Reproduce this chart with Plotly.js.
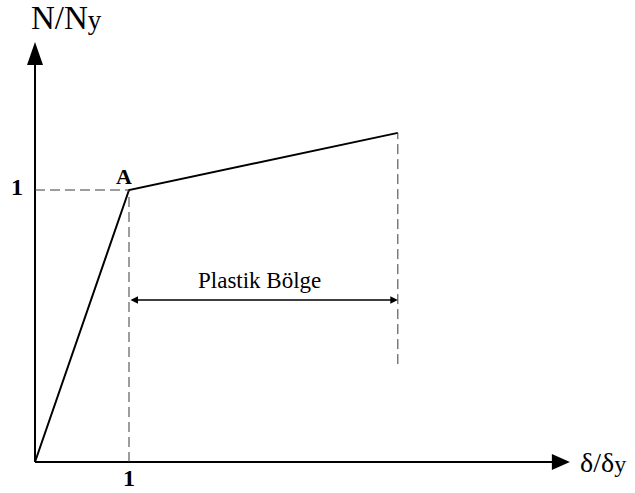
<!DOCTYPE html>
<html>
<head>
<meta charset="utf-8">
<script src="https://cdn.plot.ly/plotly-3.0.1.min.js"></script>
<style>
  body { margin: 0; background: #fff; }
  #chart { width: 635px; height: 493px; }
</style>
</head>
<body>
<div id="chart"></div>
<script>
// Eğri noktaları (δ/δy, N/Ny)
const curveX = [0, 1, 3.86];
const curveY = [0, 1, 1.21];
const yieldPoint = { x: 1, y: 1, label: 'A' };
const plasticEndBottom = 0.36;
const plasticArrowY = 0.596;
const plasticLabel = 'Plastik Bölge';
const tickLabel = '1';

// ölçek: 1 birim = piksel
const pxX = 94;
const pxY = 272;
// eksen okunun uçları
const xTip = 5.69;
const yTip = 1.544;
// tüm sayfa çizim alanı (orijin 35,462 pikselde)
const xRange = [-35 / pxX, 600 / pxX];
const yRange = [-31 / pxY, 462 / pxY];

const serif = 'Liberation Serif, Times New Roman, serif';
const dashStyle = { color: '#3a3a3a', width: 1, dash: '10px,5px' };

const curve = {
    x: curveX,
    y: curveY,
    mode: 'lines',
    line: { color: '#000', width: 2 },
    hoverinfo: 'skip',
    showlegend: false
};

// ok uçları (üçgen)
function tri(tipX, tipY, dir, len, half) {
    if (dir === 'up') {
        const bx = len / pxY, hw = half / pxX;
        return `M${tipX},${tipY} L${tipX - hw},${tipY - bx} L${tipX + hw},${tipY - bx} Z`;
    }
    const bx = len / pxX, hw = half / pxY;
    return `M${tipX},${tipY} L${tipX - bx},${tipY - hw} L${tipX - bx},${tipY + hw} Z`;
}

const lastX = curveX[curveX.length - 1];
const lastY = curveY[curveY.length - 1];

const shapes = [
    // eksenler
    { type: 'line', x0: 0, y0: 0, x1: xTip - 17 / pxX, y1: 0, line: { color: '#000', width: 2 } },
    { type: 'line', x0: 0, y0: 0, x1: 0, y1: yTip - 22 / pxY, line: { color: '#000', width: 2 } },
    { type: 'path', path: tri(xTip, 0, 'right', 18, 8), fillcolor: '#000', line: { width: 0 } },
    { type: 'path', path: tri(0, yTip, 'up', 23, 8), fillcolor: '#000', line: { width: 0 } },
    // kesikli çizgiler
    { type: 'line', x0: 0, y0: yieldPoint.y, x1: yieldPoint.x, y1: yieldPoint.y, line: dashStyle },
    { type: 'line', x0: yieldPoint.x, y0: 0, x1: yieldPoint.x, y1: yieldPoint.y, line: dashStyle },
    { type: 'line', x0: lastX, y0: plasticEndBottom, x1: lastX, y1: lastY, line: dashStyle }
];

const annotations = [
    { x: 0.33, y: 1.632, text: 'N/N<span style="font-size:27px">y</span>', showarrow: false,
      font: { family: serif, size: 33, color: '#000' } },
    { x: 6.04, y: 0.0, text: 'δ/δ<span style="font-size:24px">y</span>', showarrow: false,
      font: { family: serif, size: 28, color: '#000' } },
    { x: -0.19, y: yieldPoint.y + 0.01, text: '<b>' + tickLabel + '</b>', showarrow: false,
      font: { family: serif, size: 24, color: '#000' } },
    { x: yieldPoint.x, y: -0.06, text: '<b>' + tickLabel + '</b>', showarrow: false,
      font: { family: serif, size: 24, color: '#000' } },
    { x: yieldPoint.x - 0.05, y: yieldPoint.y + 0.05, text: '<b>' + yieldPoint.label + '</b>', showarrow: false,
      font: { family: serif, size: 22, color: '#000' } },
    { x: (yieldPoint.x + lastX) / 2 - 0.04, y: plasticArrowY + 0.07, text: plasticLabel, showarrow: false,
      font: { family: serif, size: 23, color: '#000' } },
    // çift yönlü ok
    { x: lastX, y: plasticArrowY, ax: yieldPoint.x, ay: plasticArrowY, axref: 'x', ayref: 'y',
      text: '', showarrow: true, arrowhead: 2, startarrowhead: 2, arrowside: 'end+start',
      arrowsize: 1, startarrowsize: 1, arrowwidth: 1.5, arrowcolor: '#000' }
];

const layout = {
    width: 635,
    height: 493,
    margin: { l: 0, r: 0, t: 0, b: 0, pad: 0 },
    paper_bgcolor: '#fff',
    plot_bgcolor: '#fff',
    xaxis: { range: xRange, visible: false, fixedrange: true },
    yaxis: { range: yRange, visible: false, fixedrange: true },
    shapes: shapes,
    annotations: annotations,
    showlegend: false
};

Plotly.newPlot('chart', [curve], layout, { displayModeBar: false, staticPlot: true });
</script>
</body>
</html>
